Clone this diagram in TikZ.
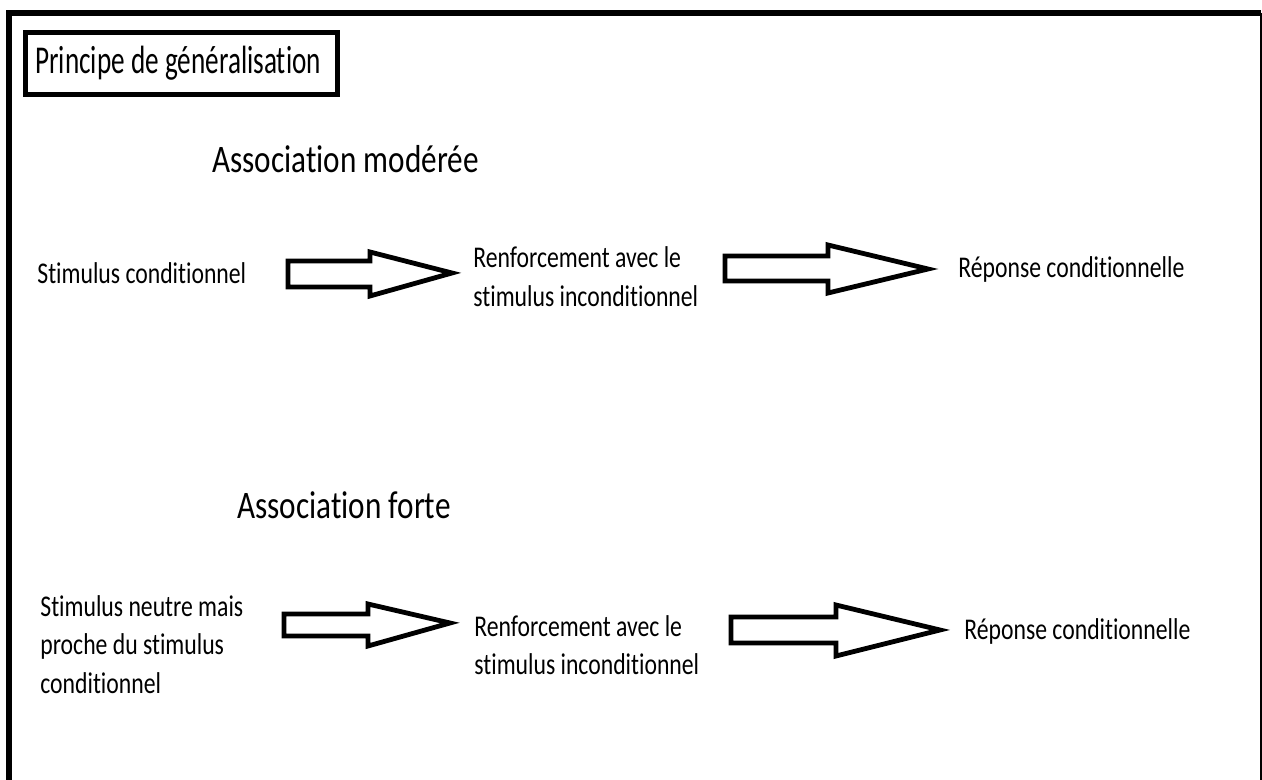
\documentclass[tikz,border=0pt]{standalone}
\usepackage{fontspec}
\setmainfont{Carlito}[Ligatures={NoCommon,NoRequired,NoContextual}]
\usepackage{graphicx}
\newcommand{\vstretch}[2][1.27]{\scalebox{1}[#1]{#2}}
\begin{document}
\begin{tikzpicture}[x=0.5pt,y=-0.5pt,
  body/.style={anchor=base west, inner sep=0pt, font=\fontsize{11.85}{15.2}\selectfont},
  headtext/.style={anchor=base west, inner sep=0pt, font=\fontsize{15.6}{19}\selectfont},
  blockarrow/.style={draw, line width=2.4pt, fill=white, line join=miter}]
\useasboundingbox (0,0) rectangle (1262,780);
\fill[white] (0,0) rectangle (1262,780);
% outer frame
\draw[line width=3pt] (9,780) -- (9,13) -- (1261,13);
\draw[line width=1pt] (1261,13) -- (1261,780);
% title
\node[draw, line width=2.5pt, minimum width=156pt, minimum height=31pt, inner sep=0pt] (titlebox) at (181.5,64) {};
\node[anchor=base west, inner sep=0pt, font=\fontsize{13.6}{16}\selectfont] (title) at (35,74) {\vstretch[1.45]{Principe de généralisation}};
% headings
\node[headtext] (h1) at (212,173) {\vstretch[1.25]{Association modérée}};
\node[headtext] (h2) at (237,518) {\vstretch[1.25]{Association forte}};
% row 1
\node[body] (s1) at (37,284) {\vstretch{Stimulus conditionnel}};
\node[body] (r1) at (473,268) {\vstretch{\begin{tabular}[t]{@{}l@{}}Renforcement avec le\\stimulus inconditionnel\end{tabular}}};
\node[body] (c1) at (958,278) {\vstretch{Réponse conditionnelle}};
% row 2
\node[body] (s2) at (40,616) {\vstretch{\begin{tabular}[t]{@{}l@{}}Stimulus neutre mais\\proche du stimulus\\conditionnel\end{tabular}}};
\node[body] (r2) at (474,636) {\vstretch{\begin{tabular}[t]{@{}l@{}}Renforcement avec le\\stimulus inconditionnel\end{tabular}}};
\node[body] (c2) at (964,639) {\vstretch{Réponse conditionnelle}};
% block arrows
\draw[blockarrow] (288,261) -- (370,261) -- (370,252) -- (452,273) -- (370,296) -- (370,287) -- (288,287) -- cycle;
\draw[blockarrow] (725,256) -- (828,256) -- (828,245) -- (928,269) -- (828,293) -- (828,281) -- (725,281) -- cycle;
\draw[blockarrow] (284,614) -- (368,614) -- (368,604) -- (450,623) -- (368,646) -- (368,636) -- (284,636) -- cycle;
\draw[blockarrow] (731,617) -- (836,617) -- (836,605) -- (940,630) -- (836,656) -- (836,643) -- (731,643) -- cycle;
\end{tikzpicture}
\end{document}
